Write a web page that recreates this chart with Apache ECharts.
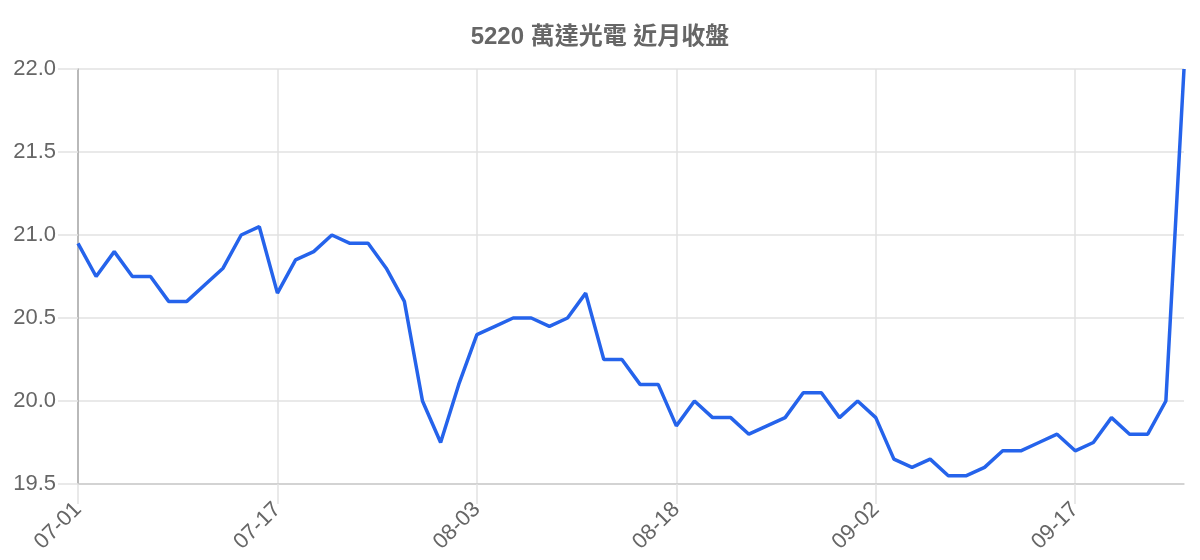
<!DOCTYPE html>
<html>
<head>
<meta charset="utf-8">
<title>5220 萬達光電 近月收盤</title>
<script src="https://cdn.jsdelivr.net/npm/echarts@6/dist/echarts.min.js"></script>
<style>
  html, body { margin: 0; padding: 0; background: #fff; }
  #chart { width: 1200px; height: 560px; }
</style>
</head>
<body>
<div id="chart"></div>
<script>
// 交易日（月-日）
var dates = [
  '07-01', '07-02', '07-03', '07-04', '07-07', '07-08', '07-09', '07-10', '07-14', '07-15', '07-16',
  '07-17', '07-18', '07-21', '07-22', '07-23', '07-24', '07-25', '07-28', '07-29', '07-30', '07-31',
  '08-03', '08-04', '08-05', '08-06', '08-07', '08-08', '08-11', '08-12', '08-13', '08-14', '08-15',
  '08-18', '08-19', '08-20', '08-21', '08-22', '08-25', '08-26', '08-27', '08-28', '08-29', '09-01',
  '09-02', '09-03', '09-04', '09-05', '09-08', '09-09', '09-10', '09-11', '09-12', '09-15', '09-16',
  '09-17', '09-18', '09-19', '09-22', '09-23', '09-24', '09-25'
];

// 收盤價
var closes = [
  20.95, 20.75, 20.90, 20.75, 20.75, 20.60, 20.60, 20.70, 20.80, 21.00, 21.05,
  20.65, 20.85, 20.90, 21.00, 20.95, 20.95, 20.80, 20.60, 20.00, 19.75, 20.10,
  20.40, 20.45, 20.50, 20.50, 20.45, 20.50, 20.65, 20.25, 20.25, 20.10, 20.10,
  19.85, 20.00, 19.90, 19.90, 19.80, 19.85, 19.90, 20.05, 20.05, 19.90, 20.00,
  19.90, 19.65, 19.60, 19.65, 19.55, 19.55, 19.60, 19.70, 19.70, 19.75, 19.80,
  19.70, 19.75, 19.90, 19.80, 19.80, 20.00, 22.00
];

var yTicks = [19.5, 20.0, 20.5, 21.0, 21.5, 22.0];

(function () {
  var font = '"Liberation Sans", Arial, "Noto Sans CJK TC", sans-serif';
  var chart = echarts.init(document.getElementById('chart'), null, { renderer: 'canvas' });

  chart.setOption({
    animation: false,
    title: {
      text: '5220 萬達光電 近月收盤',
      left: 'center',
      top: 20,
      textStyle: {
        color: '#666',
        fontSize: 24,
        fontWeight: 'bold',
        fontFamily: '"Liberation Sans", "Noto Sans CJK TC", sans-serif'
      }
    },
    grid: { left: 78, right: 16, top: 69, bottom: 76, containLabel: false },
    xAxis: {
      type: 'category',
      data: dates,
      boundaryGap: false,
      axisLine: { lineStyle: { color: '#cccccc', width: 1.5 } },
      axisTick: { show: true, interval: 10, length: 20, lineStyle: { color: '#e2e2e2', width: 1.5 } },
      splitLine: { show: true, interval: 10, lineStyle: { color: '#e2e2e2', width: 1.5 } },
      axisLabel: {
        interval: 10,
        rotate: 45,
        margin: 22,
        color: '#666',
        fontSize: 22,
        fontFamily: font
      }
    },
    yAxis: {
      type: 'value',
      min: yTicks[0],
      max: yTicks[yTicks.length - 1],
      interval: 0.5,
      axisLine: { show: true, lineStyle: { color: '#aaaaaa', width: 1.5 } },
      axisTick: { show: true, length: 20, lineStyle: { color: '#e2e2e2', width: 1.5 } },
      splitLine: { show: true, lineStyle: { color: '#e2e2e2', width: 1.5 } },
      axisLabel: {
        margin: 22,
        color: '#666',
        fontSize: 22,
        fontFamily: font,
        formatter: function (v) { return v.toFixed(1); }
      }
    },
    series: [
      {
        name: '收盤',
        type: 'line',
        data: closes,
        showSymbol: false,
        symbol: 'none',
        lineStyle: { color: '#2563eb', width: 3.5 },
        itemStyle: { color: '#2563eb' }
      }
    ]
  });
})();
</script>
</body>
</html>
